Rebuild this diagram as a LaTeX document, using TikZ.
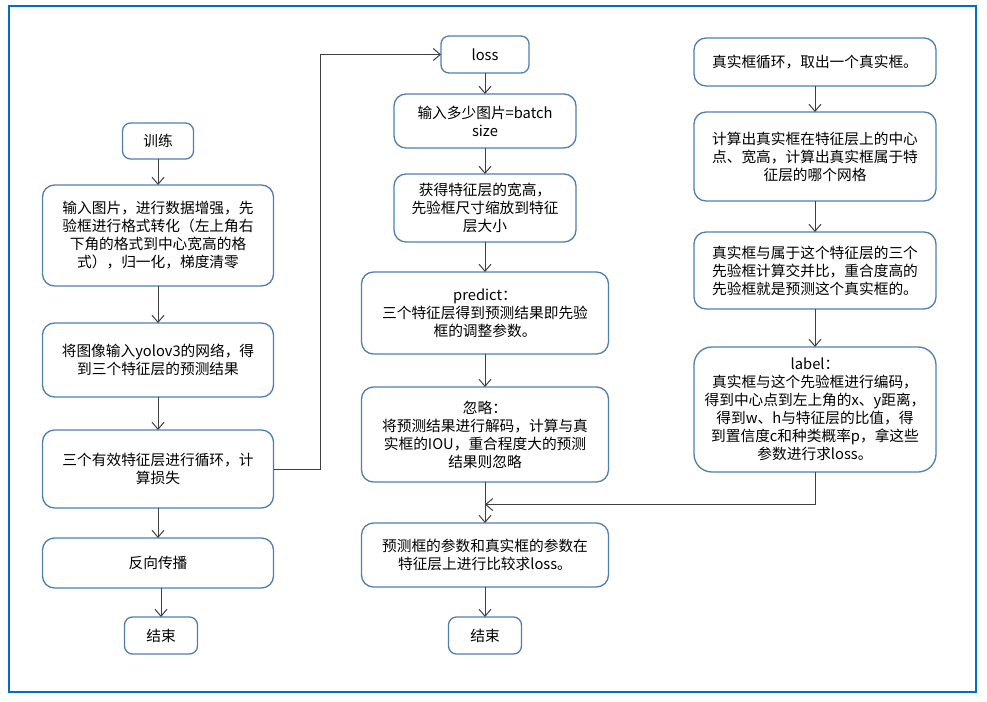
\documentclass[tikz,border=0pt]{standalone}
\usepackage{fontspec}
\newfontfamily\cjkfont{Noto Sans CJK SC}
\usetikzlibrary{positioning,arrows.meta,calc}
\definecolor{boxline}{RGB}{80,126,174}
\definecolor{flowline}{RGB}{64,64,64}
\definecolor{frameblue}{RGB}{0,112,192}

\tikzstyle{process} = [rectangle, rounded corners=12pt, inner sep=0pt, outer sep=0pt, text centered, align=center, draw=boxline, line width=1.3pt, fill=white, font=\cjkfont\fontsize{14.7pt}{18pt}\selectfont]
\tikzstyle{terminal} = [rectangle, rounded corners=8pt, inner sep=0pt, outer sep=0pt, text centered, draw=boxline, line width=1.3pt, fill=white, font=\cjkfont\fontsize{14.7pt}{18pt}\selectfont]
\tikzstyle{arrow} = [draw=flowline, line width=1pt, -{Straight Barb[length=7pt,width=12pt]}]

\begin{document}
\begin{tikzpicture}[x=1pt, y=-1pt]
	
	\useasboundingbox (0,0) rectangle (987,701);
	\draw [frameblue, line width=2pt] (9,6) rectangle (976,692);
	
	% left column
	\node (train) [terminal, minimum width=71pt, minimum height=36pt] at (158,141) {训练};
	\node (in1) [process, minimum width=231pt, minimum height=101pt, below=26pt of train] {输入图片，进行数据增强，先\\验框进行格式转化（左上角右\\下角的格式到中心宽高的格\\式），归一化，梯度清零};
	\node (in2) [process, minimum width=231pt, minimum height=74pt, below=37pt of in1] {将图像输入yolov3的网络，得\\到三个特征层的预测结果};
	\node (lossloop) [process, minimum width=231pt, minimum height=78pt, below=33pt of in2] {三个有效特征层进行循环，计\\算损失};
	\node (back) [process, minimum width=231pt, minimum height=50pt, below=30pt of lossloop] {反向传播};
	\node (end1) [terminal, minimum width=73pt, minimum height=37pt, below=29pt of back, xshift=3pt] {结束};
	
	% middle column
	\node (loss) [terminal, minimum width=88pt, minimum height=37pt] at (485,54.5) {loss};
	\node (batch) [process, minimum width=182pt, minimum height=54pt, below=21pt of loss] {输入多少图片=batch\\size};
	\node (feat) [process, minimum width=182pt, minimum height=68pt, below=26pt of batch] {获得特征层的宽高，\\先验框尺寸缩放到特征\\层大小};
	\node (predict) [process, minimum width=247pt, minimum height=82pt, below=30pt of feat] {predict：\\三个特征层得到预测结果即先验\\框的调整参数。};
	\node (ignore) [process, minimum width=247pt, minimum height=95pt, below=33pt of predict] {忽略：\\将预测结果进行解码，计算与真\\实框的IOU，重合程度大的预测\\结果则忽略};
	\node (compare) [process, minimum width=247pt, minimum height=64pt, below=41pt of ignore] {预测框的参数和真实框的参数在\\特征层上进行比较求loss。};
	\node (end2) [terminal, minimum width=73pt, minimum height=37pt, below=30pt of compare] {结束};
	
	% right column
	\node (gt) [process, minimum width=242pt, minimum height=48pt] at (815,62) {真实框循环，取出一个真实框。};
	\node (ctr) [process, minimum width=242pt, minimum height=89pt, below=26pt of gt] {计算出真实框在特征层上的中心\\点、宽高，计算出真实框属于特\\征层的哪个网格};
	\node (iou) [process, minimum width=242pt, minimum height=77pt, below=31pt of ctr] {真实框与属于这个特征层的三个\\先验框计算交并比，重合度高的\\先验框就是预测这个真实框的。};
	\node (encode) [process, rounded corners=18pt, minimum width=242pt, minimum height=125pt, below=38pt of iou] {label：\\真实框与这个先验框进行编码，\\得到中心点到左上角的x、y距离，\\得到w、h与特征层的比值，得\\到置信度c和种类概率p，拿这些\\参数进行求loss。};
	\coordinate (join) at ($(ignore.south)!0.55!(compare.north)$);
	
	\draw [arrow] (train) -- (in1);
	\draw [arrow] (in1) -- (in2);
	\draw [arrow] (in2) -- (lossloop);
	\draw [arrow] (lossloop) -- (back);
	\draw [arrow] (back.south -| end1.north) -- (end1.north);
	\draw [arrow] (lossloop.east) -- ++(47,0) |- (loss.west);
	\draw [arrow] (loss) -- (batch);
	\draw [arrow] (batch) -- (feat);
	\draw [arrow] (feat) -- (predict);
	\draw [arrow] (predict) -- (ignore);
	\draw [arrow] (ignore) -- (compare);
	\draw [arrow] (compare) -- (end2);
	\draw [arrow] (gt) -- (ctr);
	\draw [arrow] (ctr) -- (iou);
	\draw [arrow] (iou) -- (encode);
	\draw [arrow] (encode.south) |- (join);
	
\end{tikzpicture}
\end{document}
